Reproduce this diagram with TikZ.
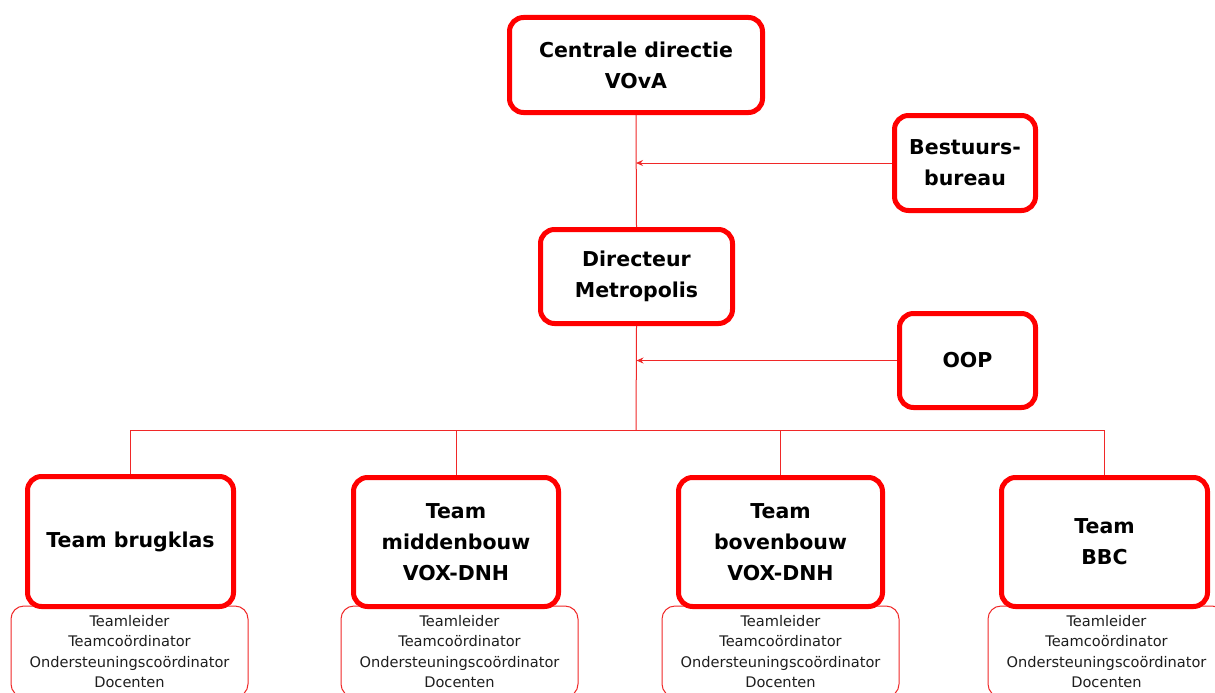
\documentclass[tikz,border=0pt]{standalone}
\usepackage{fontspec}
\setmainfont{DejaVu Sans}
\usetikzlibrary{arrows.meta}
\definecolor{boxred}{RGB}{255,0,0}
\definecolor{linered}{RGB}{240,40,40}
\definecolor{subtext}{RGB}{30,30,30}
\tikzset{
  mainbox/.style={draw=boxred, line width=5pt, rounded corners=14pt, fill=white,
    inner sep=0pt, align=center, text=black,
    font=\bfseries\fontsize{20.5}{31}\selectfont},
  subbox/.style={draw=linered, line width=1pt, rounded corners=13pt, fill=white,
    inner sep=0pt, align=center, text=subtext, minimum width=237pt, minimum height=91pt,
    font=\fontsize{14.6}{20.3}\selectfont},
  conn/.style={draw=linered, line width=1pt},
  feed/.style={conn, -{Stealth[length=7pt,width=6pt]}},
}
\begin{document}
\begin{tikzpicture}[x=1pt,y=-1pt]
\useasboundingbox (0,0) rectangle (1215,693);
\fill[white] (0,0) rectangle (1215,693);

% sub boxes first (under the team boxes)
\node[subbox] (sb1) at (129.5,651.5) {Teamleider\\Teamcoördinator\\Ondersteuningscoördinator\\Docenten};
\node[subbox] (sb2) at (459.5,651.5) {Teamleider\\Teamcoördinator\\Ondersteuningscoördinator\\Docenten};
\node[subbox] (sb3) at (780.5,651.5) {Teamleider\\Teamcoördinator\\Ondersteuningscoördinator\\Docenten};
\node[subbox] (sb4) at (1106.5,651.5) {Teamleider\\Teamcoördinator\\Ondersteuningscoördinator\\Docenten};

\node[mainbox, minimum width=253pt, minimum height=95pt] (cd) at (636,65) {Centrale directie\\VOvA};
\node[mainbox, minimum width=141pt, minimum height=95pt] (bb) at (965,163) {Bestuurs-\\bureau};
\node[mainbox, minimum width=192pt, minimum height=94pt] (dm) at (636.5,276.5) {Directeur\\Metropolis};
\node[mainbox, minimum width=136pt, minimum height=94pt] (oop) at (967.5,360.5) {OOP};

\node[mainbox, minimum width=206pt, minimum height=130pt] (t1) at (130.5,541.5) {Team brugklas};
\node[mainbox, minimum width=205pt, minimum height=129pt] (t2) at (456,542) {Team\\middenbouw\\VOX-DNH};
\node[mainbox, minimum width=204pt, minimum height=129pt] (t3) at (780.5,542) {Team\\bovenbouw\\VOX-DNH};
\node[mainbox, minimum width=206pt, minimum height=129pt] (t4) at (1104.5,542) {Team\\BBC};

\coordinate (bus) at (636,430);

% connectors
\draw[conn] (cd.south) -- (dm.north);
\draw[conn] (dm.south) -- (bus);
\draw[feed] (bb.west) -- (bb.west -| cd.south);
\draw[feed] (oop.west) -- (oop.west -| dm.south);
\draw[conn] (t1.north) -- (t1.north |- bus) -- (t4.north |- bus) -- (t4.north);
\draw[conn] (t2.north) -- (t2.north |- bus);
\draw[conn] (t3.north) -- (t3.north |- bus);
\end{tikzpicture}
\end{document}
